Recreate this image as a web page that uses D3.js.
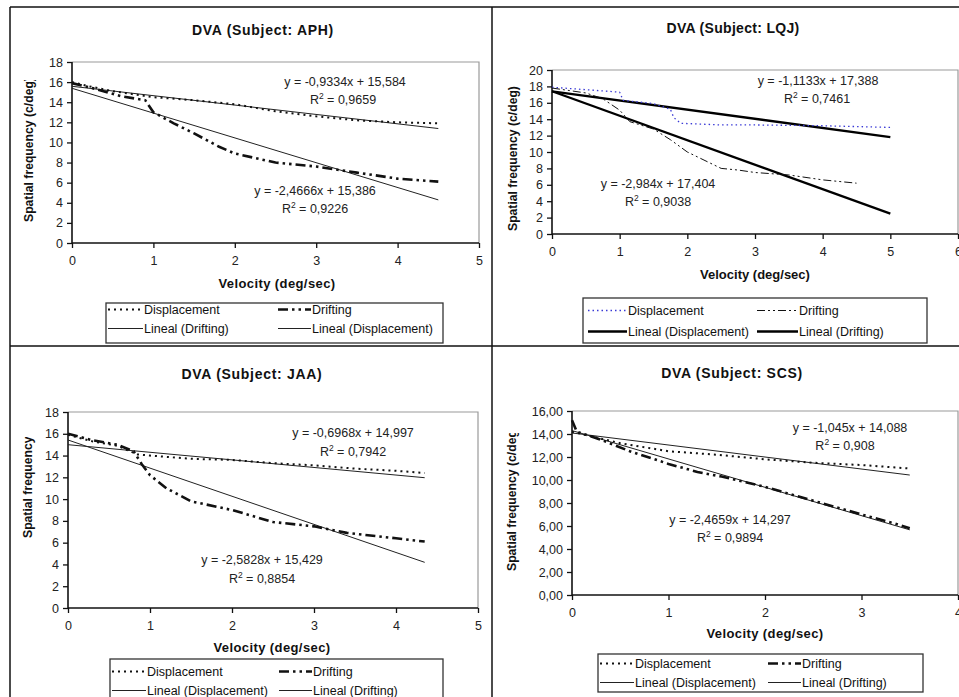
<!DOCTYPE html>
<html>
<head>
<meta charset="utf-8">
<script src="https://cdn.jsdelivr.net/npm/d3@7"></script>
<style>
  html, body { margin: 0; padding: 0; background: #fff; }
  svg { display: block; font-family: "Liberation Sans", Arial, sans-serif; }
</style>
</head>
<body>
<svg id="chart" width="959" height="697"></svg>
<script>
// ---------------- DATA ----------------
const subjects = ["APH", "LQJ", "JAA", "SCS"];

// APH
const aphDisplacement = [[0,16.0],[0.2,15.6],[0.5,15.1],[1.0,14.5],[1.5,14.2],[2.0,13.8],[2.5,13.1],[3.0,12.6],[3.5,12.2],[4.0,12.0],[4.5,11.9]];
const aphDrifting = [[0,15.9],[0.3,15.3],[0.6,14.6],[0.9,14.2],[1.0,13.0],[1.25,11.9],[1.5,10.9],[1.8,9.6],[2.0,8.9],[2.5,8.0],[3.0,7.6],[3.5,7.0],[4.0,6.4],[4.5,6.1]];
const aphFitDisplacement = [[0,15.584],[4.5,11.384]];
const aphFitDrifting = [[0,15.386],[4.5,4.286]];
const aphEquations = ["y = -0,9334x + 15,584", "0,9659", "y = -2,4666x + 15,386", "0,9226"];

// LQJ
const lqjDisplacement = [[0,17.9],[0.5,17.6],[1.0,17.3],[1.05,16.3],[1.5,15.9],[1.75,15.2],[1.8,14.2],[1.9,13.5],[2.5,13.3],[3.0,13.3],[4.0,13.2],[5.0,13.0]];
const lqjDrifting = [[0,17.8],[0.5,17.2],[0.75,16.5],[1.0,15.1],[1.15,13.7],[1.5,12.8],[1.75,11.5],[2.0,10.0],[2.5,8.0],[2.75,7.8],[3.0,7.5],[3.5,7.2],[4.0,6.6],[4.5,6.2]];
const lqjFitDisplacement = [[0,17.388],[5,11.822]];
const lqjFitDrifting = [[0,17.404],[5,2.484]];
const lqjEquations = ["y = -1,1133x + 17,388", "0,7461", "y = -2,984x + 17,404", "0,9038"];

// JAA
const jaaDisplacement = [[0,15.9],[0.3,15.3],[0.6,14.9],[0.85,14.1],[1.0,14.0],[1.5,13.7],[2.0,13.6],[2.5,13.3],[3.0,13.1],[3.5,12.8],[4.0,12.6],[4.35,12.4]];
const jaaDrifting = [[0,16.0],[0.3,15.4],[0.6,15.0],[0.8,14.4],[0.9,13.2],[1.0,12.2],[1.2,11.0],[1.5,9.8],[2.0,9.0],[2.5,7.9],[3.0,7.5],[3.4,6.9],[4.0,6.4],[4.35,6.1]];
const jaaFitDisplacement = [[0,14.997],[4.35,11.966]];
const jaaFitDrifting = [[0,15.429],[4.35,4.194]];
const jaaEquations = ["y = -0,6968x + 14,997", "0,7942", "y = -2,5828x + 15,429", "0,8854"];

// SCS
const scsDisplacement = [[0,14.2],[0.5,13.2],[1.0,12.5],[1.5,12.2],[2.0,11.8],[2.5,11.5],[3.0,11.3],[3.5,11.0]];
const scsDrifting = [[0,15.2],[0.05,14.2],[0.3,13.5],[0.6,12.5],[1.0,11.4],[1.3,10.7],[1.55,10.3],[2.0,9.4],[2.5,8.2],[3.0,7.0],[3.35,6.2],[3.5,5.8]];
const scsFitDisplacement = [[0,14.088],[3.5,10.431]];
const scsFitDrifting = [[0,14.297],[3.5,5.666]];
const scsEquations = ["y = -1,045x + 14,088", "0,908", "y = -2,4659x + 14,297", "0,9894"];

const xTickValues = [[0,1,2,3,4,5],[0,1,2,3,4,5,6],[0,1,2,3,4,5],[0,1,2,3,4]];
const yTickValues = [[0,2,4,6,8,10,12,14,16,18],[0,2,4,6,8,10,12,14,16,18,20],[0,2,4,6,8,10,12,14,16,18],[0,2,4,6,8,10,12,14,16]];
const legendLabelsA = ["Displacement", "Drifting", "Lineal (Drifting)", "Lineal (Displacement)"];
const legendLabelsB = ["Displacement", "Drifting", "Lineal (Displacement)", "Lineal (Drifting)"];

// ---------------- LAYOUT / STYLE ----------------
const panels = [
  { name: subjects[0], disp: aphDisplacement, drift: aphDrifting, fitDisp: aphFitDisplacement, fitDrift: aphFitDrifting, eq: aphEquations,
    xt: xTickValues[0], yt: yTickValues[0], left: 72, right: 479, top: 62, bottom: 243, dec: false,
    titleX: 263, titleY: 35, xLabX: 277, xLabY: 288, yLabX: 33, yLabStart: 222, yLabClip: 80,
    eqPos: [[345, 86], [343, 104], [315, 195], [315, 213]],
    legend: { x0: 106, x1: 443, y0: 303, y1: 343, rows: [314, 333], cols: [[108, 143], [278, 311]], labels: legendLabelsA,
      order: ["disp", "drift", "fitDrift", "fitDisp"] },
    style: "classic", spacing: 0.4 },
  { name: subjects[1], disp: lqjDisplacement, drift: lqjDrifting, fitDisp: lqjFitDisplacement, fitDrift: lqjFitDrifting, eq: lqjEquations,
    xt: xTickValues[1], yt: yTickValues[1], left: 552, right: 958, top: 70, bottom: 234, dec: false,
    titleX: 733, titleY: 33, xLabX: 755, xLabY: 279, yLabX: 517, yLabStart: 231, yLabClip: 60,
    eqPos: [[818, 85], [817, 103], [658, 188], [658, 206]],
    legend: { x0: 583, x1: 927, y0: 298, y1: 343, rows: [315, 336], cols: [[588, 627], [757, 798]], labels: legendLabelsB,
      order: ["disp", "drift", "fitDisp", "fitDrift"] },
    style: "lqj", spacing: 0 },
  { name: subjects[2], disp: jaaDisplacement, drift: jaaDrifting, fitDisp: jaaFitDisplacement, fitDrift: jaaFitDrifting, eq: jaaEquations,
    xt: xTickValues[2], yt: yTickValues[2], left: 68, right: 478, top: 412, bottom: 608, dec: false,
    titleX: 252, titleY: 379, xLabX: 272, xLabY: 652, yLabX: 32, yLabStart: 538, yLabClip: 437,
    eqPos: [[353, 437], [353, 456], [262, 564], [262, 583]],
    legend: { x0: 110, x1: 443, y0: 659, y1: 705, rows: [676, 695], cols: [[112, 146], [279, 312]], labels: legendLabelsB,
      order: ["disp", "drift", "fitDisp", "fitDrift"] },
    style: "classic", spacing: 0.4 },
  { name: subjects[3], disp: scsDisplacement, drift: scsDrifting, fitDisp: scsFitDisplacement, fitDrift: scsFitDrifting, eq: scsEquations,
    xt: xTickValues[3], yt: yTickValues[3], left: 572, right: 958, top: 411, bottom: 595, dec: true,
    titleX: 732, titleY: 378, xLabX: 765, xLabY: 638, yLabX: 516, yLabStart: 571, yLabClip: 433,
    eqPos: [[850, 432], [845, 450], [730, 524], [730, 542]],
    legend: { x0: 598, x1: 923, y0: 654, y1: 692, rows: [668, 687], cols: [[600, 634], [768, 801]], labels: legendLabelsB,
      order: ["disp", "drift", "fitDisp", "fitDrift"] },
    style: "classic", spacing: 0.4 }
];

const styles = {
  classic: {
    disp: { stroke: "#111", width: 2, dash: "2,4" },
    drift: { stroke: "#111", width: 2.6, dash: "10,4,2.5,4,2.5,4" },
    fitDisp: { stroke: "#222", width: 1, dash: null },
    fitDrift: { stroke: "#222", width: 1, dash: null }
  },
  lqj: {
    disp: { stroke: "#3a3ad6", width: 1.3, dash: "1.5,3" },
    drift: { stroke: "#111", width: 1, dash: "8,3,2,3,2,3" },
    fitDisp: { stroke: "#000", width: 2.3, dash: null },
    fitDrift: { stroke: "#000", width: 2.3, dash: null }
  }
};

const svg = d3.select("#chart");
const fontFam = '"Liberation Sans", Arial, sans-serif';

// outer frame / dividers
const frame = svg.append("g").attr("stroke", "#111").attr("stroke-width", 1.5);
frame.append("line").attr("x1", 10).attr("x2", 959).attr("y1", 7).attr("y2", 7);
frame.append("line").attr("x1", 10).attr("x2", 10).attr("y1", 7).attr("y2", 697);
frame.append("line").attr("x1", 492).attr("x2", 492).attr("y1", 7).attr("y2", 697);
frame.append("line").attr("x1", 10).attr("x2", 959).attr("y1", 346).attr("y2", 346);

panels.forEach((p, i) => {
  const st = styles[p.style];
  const g = svg.append("g");
  const x = d3.scaleLinear().domain([0, d3.max(p.xt)]).range([p.left, p.right]);
  const y = d3.scaleLinear().domain([0, d3.max(p.yt)]).range([p.bottom, p.top]);

  // title
  g.append("text").attr("x", p.titleX).attr("y", p.titleY).attr("text-anchor", "middle")
    .attr("font-size", 14).attr("font-weight", "bold").attr("fill", "#111")
    .attr("letter-spacing", p.spacing + 0.3)
    .text(`DVA (Subject: ${p.name})`);

  // plot frame (grey top / right)
  g.append("path").attr("d", `M${p.left},${p.top}H${p.right}V${p.bottom}`)
    .attr("fill", "none").attr("stroke", "#9a9a9a").attr("stroke-width", 1.2);

  // axes
  const fmtY = p.dec ? (d => d3.format(".2f")(d).replace(".", ",")) : d3.format("d");
  const yAxis = g.append("g").attr("transform", `translate(${p.left},0)`)
    .call(d3.axisLeft(y).tickValues(p.yt).tickSize(5).tickPadding(4).tickFormat(fmtY));
  const xAxis = g.append("g").attr("transform", `translate(0,${p.bottom})`)
    .call(d3.axisBottom(x).tickValues(p.xt).tickSize(5).tickPadding(8).tickFormat(d3.format("d")));
  [yAxis, xAxis].forEach(a => {
    a.select(".domain").attr("stroke", "#111").attr("stroke-width", 1.6);
    a.selectAll(".tick line").attr("stroke", "#111").attr("stroke-width", 1.3);
    a.selectAll(".tick text").attr("font-size", 12.5).attr("font-family", fontFam).attr("fill", "#222");
  });
  xAxis.select(".domain").attr("d", `M${p.left},0H${p.right}`);
  yAxis.select(".domain").attr("d", `M0,${p.bottom}V${p.top}`);

  // axis titles
  g.append("text").attr("x", p.xLabX).attr("y", p.xLabY).attr("text-anchor", "middle")
    .attr("font-size", 13).attr("font-weight", "bold").attr("fill", "#111")
    .attr("letter-spacing", p.spacing)
    .text("Velocity (deg/sec)");
  const clipId = `ylab-clip-${i}`;
  svg.append("clipPath").attr("id", clipId).append("rect")
    .attr("x", p.yLabX - 16).attr("y", p.yLabClip).attr("width", 22).attr("height", 300);
  g.append("g").attr("clip-path", `url(#${clipId})`).append("text")
    .attr("transform", `translate(${p.yLabX},${p.yLabStart}) rotate(-90)`)
    .attr("text-anchor", "start").attr("font-size", 12.2).attr("font-weight", "bold").attr("fill", "#111")
    .text("Spatial frequency (c/deg)");

  // series
  const line = d3.line().x(d => x(d[0])).y(d => y(d[1]));
  const drawSeries = (data, s) => {
    g.append("path").datum(data).attr("d", line).attr("fill", "none")
      .attr("stroke", s.stroke).attr("stroke-width", s.width)
      .attr("stroke-dasharray", s.dash).attr("stroke-linejoin", "round");
  };
  drawSeries(p.fitDisp, st.fitDisp);
  drawSeries(p.fitDrift, st.fitDrift);
  drawSeries(p.disp, st.disp);
  drawSeries(p.drift, st.drift);

  // equations
  p.eq.forEach((t, k) => {
    const tx = g.append("text").attr("x", p.eqPos[k][0]).attr("y", p.eqPos[k][1])
      .attr("text-anchor", "middle").attr("font-size", 12.5).attr("fill", "#222");
    if (k % 2 === 0) {
      tx.text(t);
    } else {
      tx.append("tspan").text("R");
      tx.append("tspan").attr("dy", -5).attr("font-size", 8.5).text("2");
      tx.append("tspan").attr("dy", 5).text(" = " + t);
    }
  });

  // legend
  const L = p.legend;
  g.append("rect").attr("x", L.x0).attr("y", L.y0).attr("width", L.x1 - L.x0).attr("height", L.y1 - L.y0)
    .attr("fill", "#fff").attr("stroke", "#333").attr("stroke-width", 1.3);
  L.order.forEach((key, k) => {
    const row = Math.floor(k / 2), col = k % 2;
    const cx = L.cols[col], cy = L.rows[row];
    const s = st[key];
    g.append("line").attr("x1", cx[0]).attr("x2", cx[1]).attr("y1", cy - 4.5).attr("y2", cy - 4.5)
      .attr("stroke", s.stroke).attr("stroke-width", s.width).attr("stroke-dasharray", s.dash);
    g.append("text").attr("x", cx[1] + 1).attr("y", cy).attr("font-size", 12.5).attr("fill", "#111")
      .text(L.labels[k]);
  });
});
</script>
</body>
</html>
